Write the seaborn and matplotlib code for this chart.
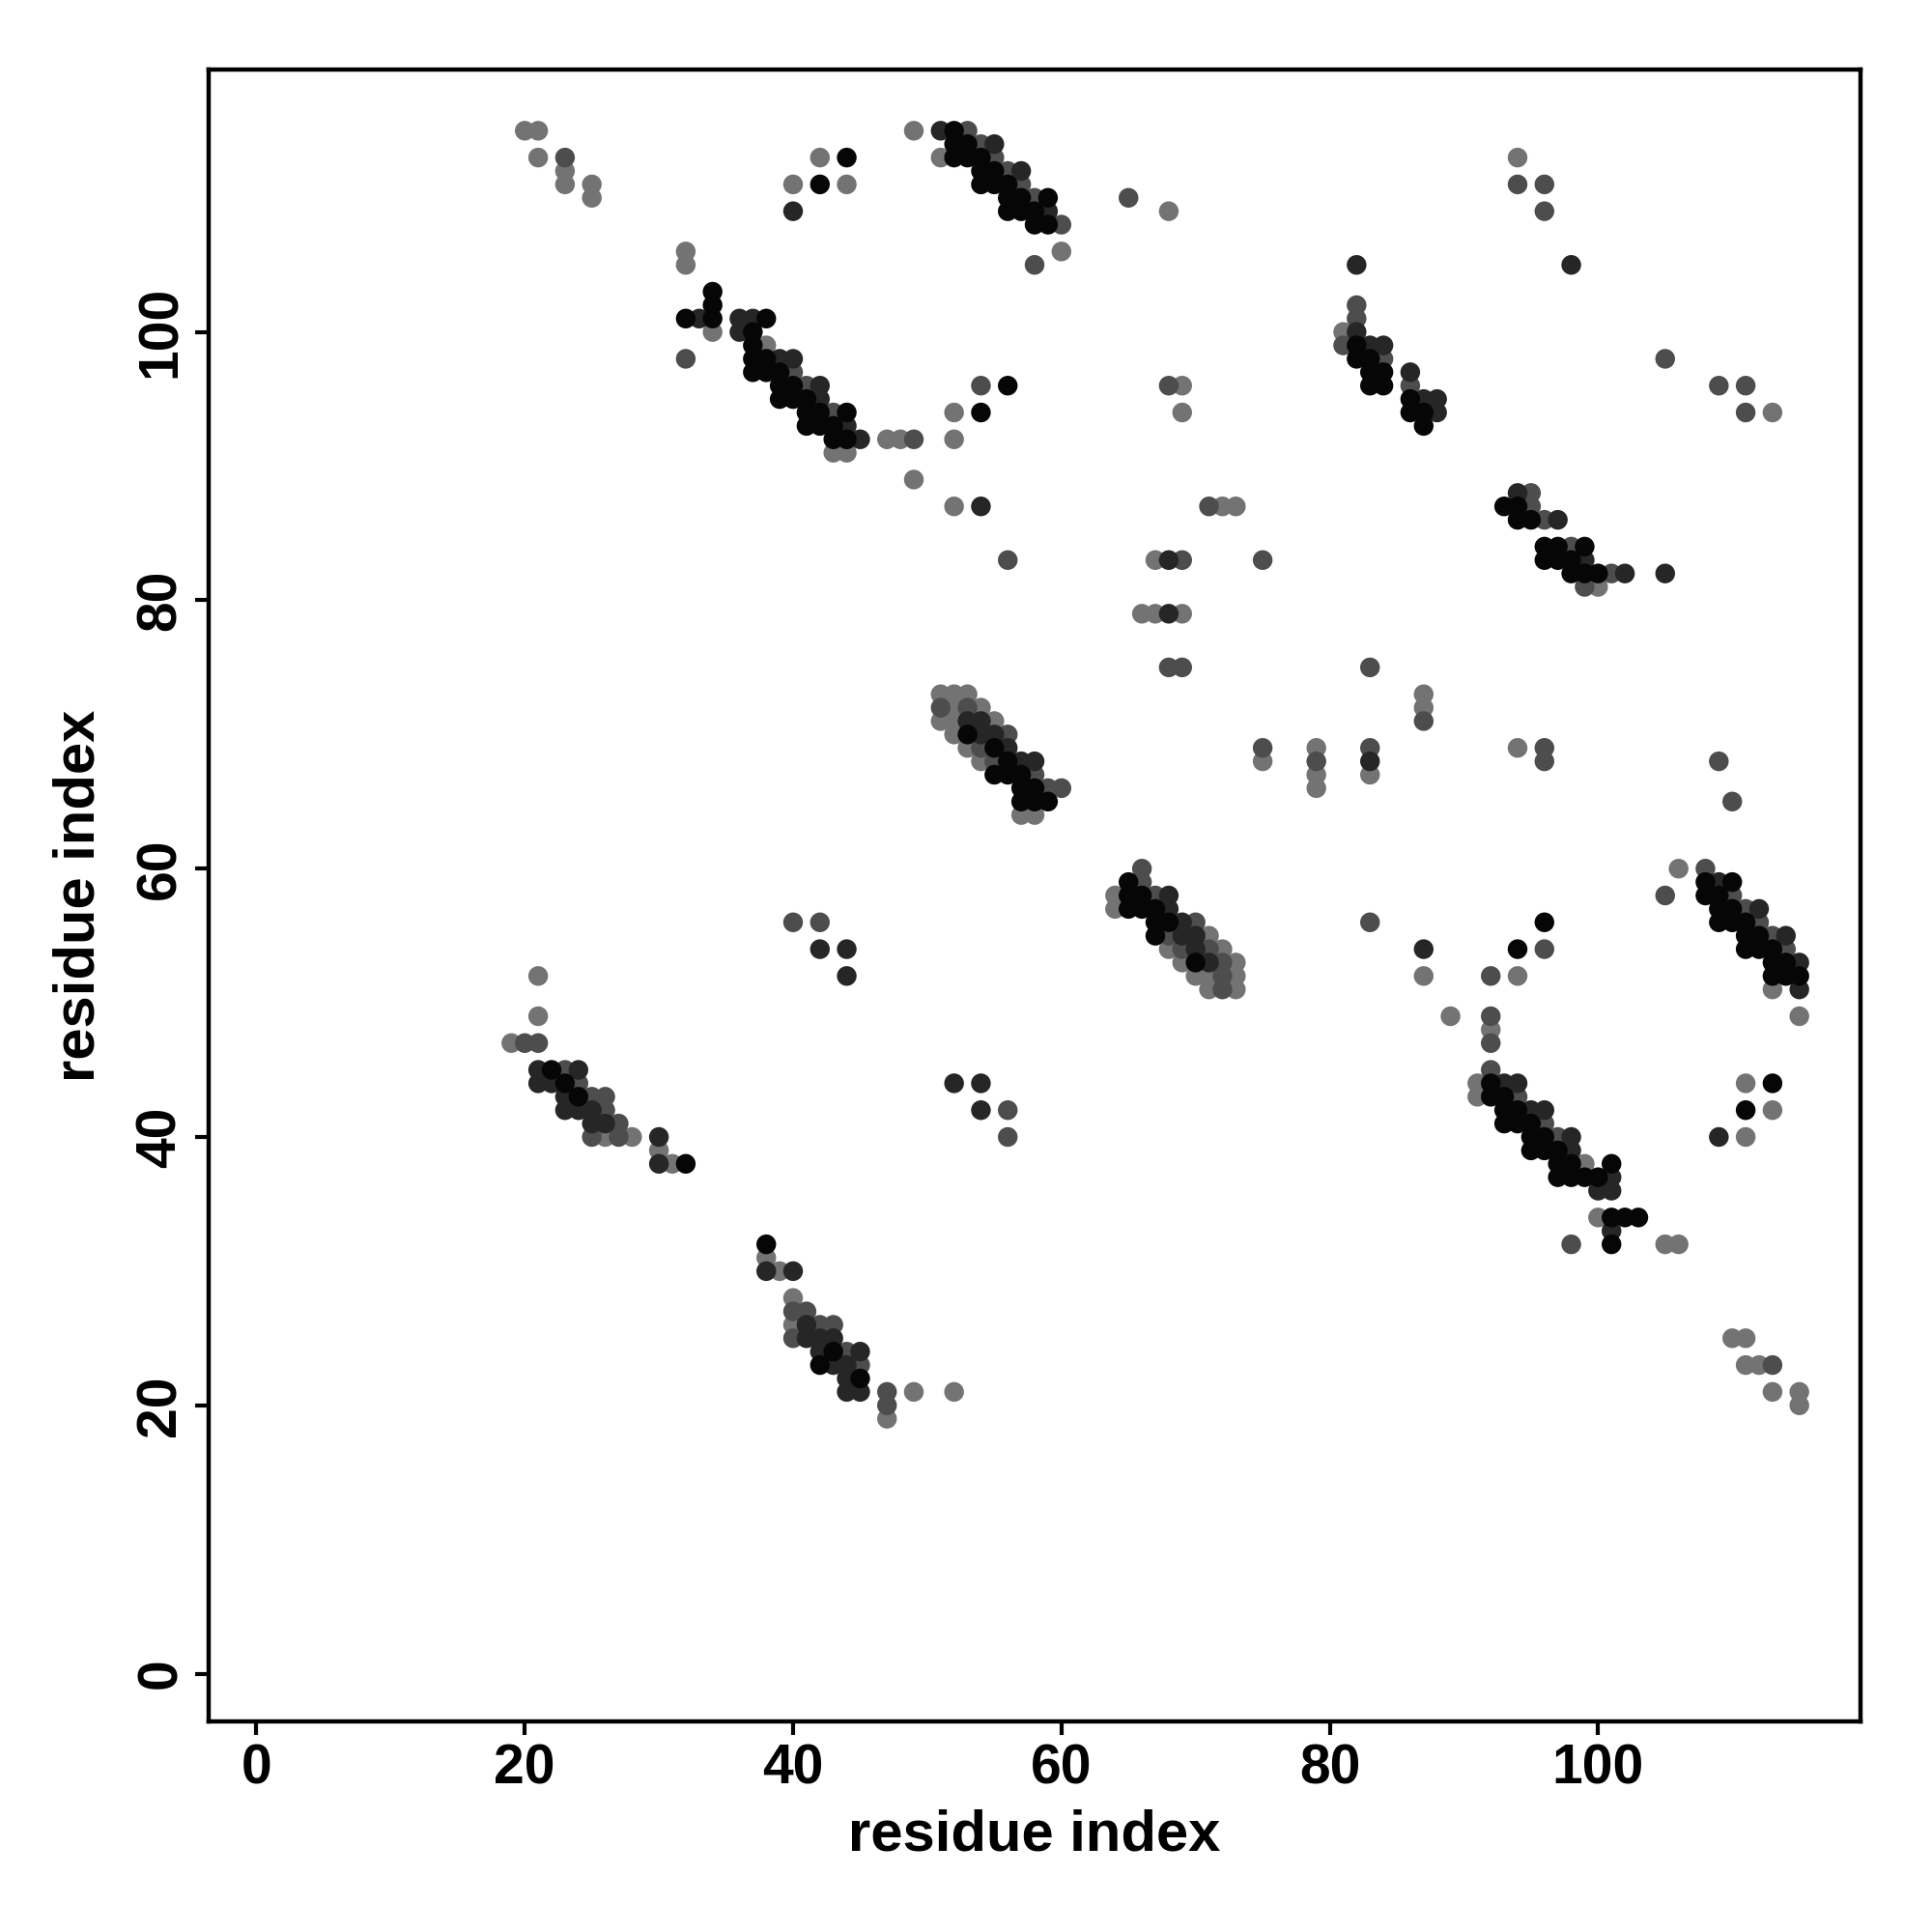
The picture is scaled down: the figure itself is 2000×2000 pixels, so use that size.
import matplotlib
matplotlib.use("Agg")
import matplotlib.pyplot as plt
from matplotlib.colors import LinearSegmentedColormap
import pandas as pd
import seaborn as sns

# contacts (i, j) grouped by predicted strength
contacts_grey = [
    (20, 115), (21, 115), (21, 113), (23, 112), (23, 111), (25, 111), (25, 110),
    (42, 113), (40, 111), (44, 111), (49, 115), (51, 113), (60, 106), (68, 109),
    (32, 106), (32, 105), (34, 100), (38, 99), (47, 92), (48, 92), (43, 91), (44, 91),
    (49, 89), (52, 94), (52, 92), (52, 87), (69, 96), (69, 94), (72, 87), (73, 87),
    (67, 83), (66, 79), (67, 79), (69, 79), (81, 100), (94, 113), (113, 94), (100, 81),
    (51, 73), (52, 73), (53, 73), (52, 72), (54, 72), (51, 71), (52, 71), (55, 71),
    (52, 70), (53, 69), (54, 68), (57, 64), (58, 64),
    (75, 68), (79, 69), (79, 67), (79, 66), (83, 67), (87, 73), (87, 72), (94, 69),
    (64, 58), (64, 57), (71, 55), (68, 54), (72, 54), (69, 53), (73, 53), (70, 52),
    (71, 52), (73, 52), (71, 51), (73, 51),
    (106, 60), (113, 51), (115, 49), (87, 52), (94, 52), (89, 49), (92, 48),
    (91, 44), (91, 43), (99, 38), (100, 34), (105, 32), (106, 32),
    (111, 44), (113, 42), (111, 40), (110, 25), (111, 25), (111, 23), (112, 23),
    (113, 21), (115, 21), (115, 20),
    (21, 52), (21, 49), (19, 47), (26, 40), (28, 40), (30, 39), (31, 38),
    (38, 31), (39, 30), (40, 28), (40, 26), (49, 21), (47, 19), (52, 21),
]
contacts_mid = [
    (23, 113), (53, 115), (54, 114), (55, 113), (56, 112), (57, 111), (58, 110),
    (60, 108), (58, 105), (65, 110), (32, 98), (40, 97), (41, 96), (43, 94),
    (49, 92), (54, 96), (56, 83), (68, 96), (71, 87), (69, 83), (75, 83),
    (68, 75), (69, 75), (82, 102), (82, 101), (81, 99), (84, 98), (86, 96),
    (94, 111), (96, 111), (96, 109), (105, 98), (109, 96), (111, 96), (111, 94),
    (95, 88), (95, 87), (96, 86), (98, 84), (101, 82), (99, 81),
    (51, 72), (53, 72), (56, 70), (54, 69), (55, 68), (58, 67), (59, 66), (60, 66),
    (75, 69), (79, 68), (83, 75), (83, 69), (87, 71), (96, 69), (96, 68),
    (109, 68), (110, 65),
    (66, 60), (66, 59), (67, 58), (70, 56), (68, 55), (69, 54), (71, 54), (72, 53),
    (72, 52), (72, 51),
    (108, 60), (105, 58), (110, 58), (111, 57), (112, 56), (113, 55), (114, 54),
    (83, 56), (96, 54), (92, 52), (92, 49), (92, 47),
    (92, 45), (94, 43), (96, 41), (97, 40), (98, 32), (113, 23),
    (40, 56), (42, 56), (20, 47), (21, 47), (23, 45), (24, 44), (25, 43), (26, 43),
    (26, 42), (27, 41), (25, 40), (27, 40), (40, 27), (41, 27), (42, 26), (43, 26),
    (40, 25), (44, 24), (45, 23), (47, 21), (47, 20), (56, 42), (56, 40),
]
contacts_dark = [
    (40, 109), (51, 115), (55, 114), (57, 112), (59, 109),
    (33, 101), (36, 101), (37, 101), (36, 100), (39, 98), (40, 98), (42, 96),
    (42, 95), (44, 93), (45, 92), (54, 87), (68, 83), (68, 79),
    (82, 105), (82, 100), (83, 99), (84, 99), (86, 97), (87, 95), (88, 95),
    (88, 94), (98, 105), (94, 88), (97, 86), (99, 83), (102, 82), (105, 82),
    (53, 71), (54, 71), (54, 70), (55, 70), (56, 69), (57, 68), (58, 68), (83, 68),
    (68, 58), (68, 57), (69, 56), (69, 55), (70, 55), (70, 54), (71, 53),
    (109, 59), (112, 57), (114, 55), (115, 53), (115, 51),
    (87, 54), (93, 44), (94, 44), (95, 42), (96, 42), (98, 40), (98, 39),
    (101, 37), (100, 36), (101, 36), (101, 33), (109, 40),
    (42, 54), (44, 54), (44, 52), (21, 45), (24, 45), (21, 44), (22, 44), (23, 43),
    (23, 42), (24, 42), (25, 42), (25, 41), (26, 41), (30, 40), (30, 38),
    (38, 30), (40, 30), (41, 26), (41, 25), (42, 25), (43, 25), (42, 24), (45, 24),
    (43, 23), (44, 23), (44, 22), (44, 21), (45, 21),
    (52, 44), (54, 44), (54, 42),
]
contacts_black = [
    (44, 113), (42, 111), (52, 115), (52, 114), (52, 113), (53, 114), (53, 113),
    (54, 113), (54, 112), (55, 112), (54, 111), (55, 111), (56, 111), (56, 110),
    (57, 110), (59, 110), (56, 109), (57, 109), (58, 109), (58, 108), (59, 108),
    (34, 103), (34, 102), (32, 101), (34, 101), (38, 101), (37, 100), (37, 99),
    (37, 98), (38, 98), (37, 97), (38, 97), (39, 97), (39, 96), (40, 96),
    (39, 95), (40, 95), (41, 95), (41, 94), (42, 94), (44, 94), (41, 93), (42, 93),
    (43, 93), (43, 92), (44, 92), (54, 94), (56, 96),
    (82, 99), (82, 98), (83, 98), (83, 97), (84, 97), (83, 96), (84, 96), (86, 95),
    (86, 94), (87, 94), (87, 93),
    (93, 87), (94, 87), (94, 86), (95, 86), (96, 84), (97, 84), (99, 84), (96, 83),
    (97, 83), (98, 83), (98, 82), (99, 82), (100, 82),
    (53, 70), (55, 69), (56, 68), (55, 67), (56, 67), (57, 67), (57, 66), (58, 66),
    (57, 65), (58, 65), (59, 65),
    (65, 59), (65, 58), (66, 58), (65, 57), (66, 57), (67, 57), (67, 56), (68, 56),
    (67, 55), (70, 53),
    (108, 59), (110, 59), (108, 58), (109, 58), (109, 57), (110, 57), (109, 56),
    (110, 56), (111, 56), (111, 55), (112, 55), (111, 54), (112, 54), (113, 54),
    (113, 53), (114, 53), (113, 52), (114, 52), (115, 52),
    (94, 54), (96, 56), (92, 44), (92, 43), (93, 43), (93, 42), (94, 42),
    (93, 41), (94, 41), (95, 41), (95, 40), (96, 40), (95, 39), (96, 39), (97, 39),
    (97, 38), (98, 38), (101, 38), (97, 37), (98, 37), (99, 37), (100, 37),
    (101, 34), (102, 34), (103, 34), (101, 32), (113, 44), (111, 42),
    (22, 45), (23, 44), (24, 43), (32, 38), (38, 32), (43, 24), (42, 23), (45, 22),
]
strength = {"grey": 0.1, "mid": 0.4, "dark": 0.7, "black": 0.95}

rows = []
for name, pts in [("grey", contacts_grey), ("mid", contacts_mid),
                  ("dark", contacts_dark), ("black", contacts_black)]:
    for i, j in pts:
        rows.append({"i": i, "j": j, "prob": strength[name]})
df = pd.DataFrame(rows)

sns.set_style("white")
plt.rcParams["font.family"] = ["Liberation Sans", "DejaVu Sans"]
plt.rcParams["font.weight"] = "bold"
for key in ["text.color", "axes.labelcolor", "xtick.color", "ytick.color"]:
    plt.rcParams[key] = "black"

greys = LinearSegmentedColormap.from_list("greys", ["#808080", "#000000"])

fig = plt.figure(figsize=(10, 10), dpi=200)
ax = fig.add_axes([0.108, 0.109, 0.855, 0.855])
sns.scatterplot(data=df, x="i", y="j", hue="prob", palette=greys, hue_norm=(0, 1),
                s=54, linewidth=0, legend=False, ax=ax)

ax.set_xlim(-3.56, 119.56)
ax.set_ylim(-3.56, 119.56)
ax.set_xticks([0, 20, 40, 60, 80, 100])
ax.set_yticks([0, 20, 40, 60, 80, 100])
ax.set_xlabel("residue index", fontsize=21.5, fontweight="bold", labelpad=5)
ax.set_ylabel("residue index", fontsize=21.5, fontweight="bold", labelpad=11)
ax.tick_params(axis="both", direction="out", length=5, width=1.5, labelsize=20.5,
               pad=3, bottom=True, left=True, color="black", labelcolor="black")
for lab in ax.get_xticklabels() + ax.get_yticklabels():
    lab.set_fontweight("bold")
for lab in ax.get_yticklabels():
    lab.set_rotation(90)
    lab.set_va("center")
for sp in ax.spines.values():
    sp.set_linewidth(1.6)
    sp.set_color("black")

fig.savefig("out.png", dpi=200, facecolor="white")
